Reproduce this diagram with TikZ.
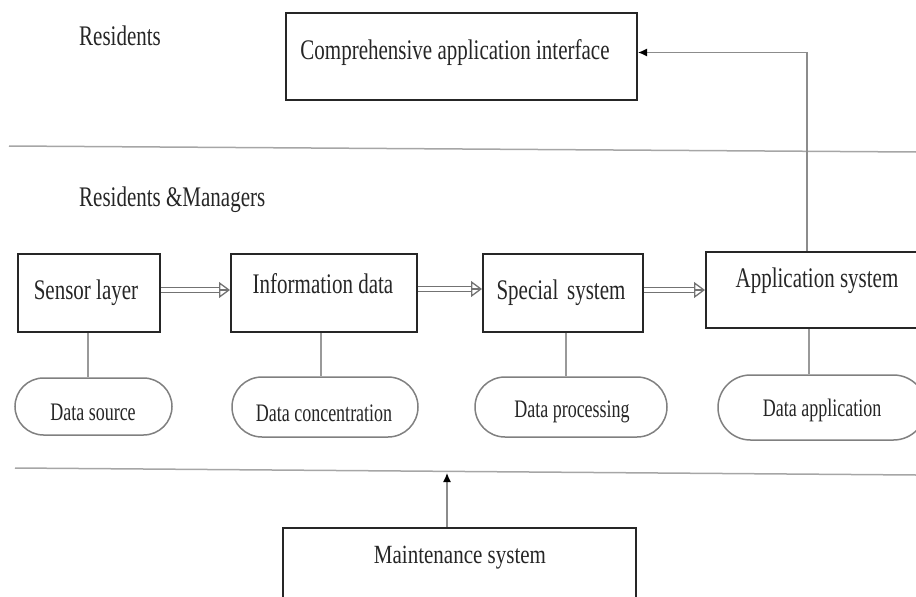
\documentclass[tikz,border=0pt]{standalone}
\usepackage{fontspec}
\setmainfont{Liberation Serif}
\usepackage{graphicx}
\usetikzlibrary{arrows.meta,shapes.misc,calc}
\newcommand\tallt[2][1.35]{\scalebox{1}[#1]{#2}}
\begin{document}
\begin{tikzpicture}[x=1pt,y=-1pt,
  box/.style={draw=black!85, line width=2pt, rectangle, inner sep=0pt},
  pill/.style={draw=black!50, line width=1.5pt, rounded rectangle, inner sep=0pt},
  lbl/.style={font=\fontsize{21}{24}\selectfont, text=black!85, inner sep=0pt},
  smalllbl/.style={font=\fontsize{18}{21}\selectfont, text=black!85, inner sep=0pt},
  conn/.style={draw=black!40, line width=1.5pt},
  sepline/.style={draw=black!35, line width=1.5pt},
  flowshaft/.style={draw=black!55, double=white, double distance=3.5pt, line width=1.3pt, shorten >=10pt},
  flowhead/.style={draw=black!55, line width=1.3pt, -{Triangle[open,length=11pt,width=16pt]}},
  uparrow/.style={draw=black!45, line width=1.3pt, -{Latex[length=9pt,width=8pt,black]}}
]
\clip (0,0) rectangle (916,597);
\useasboundingbox (0,0) rectangle (916,597);

% separators
\coordinate (s1a) at (9,146);
\coordinate (s1b) at (916,152);
\coordinate (s2a) at (15,468);
\coordinate (s2b) at (916,475);
\draw[sepline] (s1a) -- (s1b);
\draw[sepline] (s2a) -- (s2b);

% role labels
\node[lbl, anchor=west] (res) at (79,36) {\tallt{Residents}};
\node[lbl, anchor=west] (resm) at (79,200) {\tallt{Residents \&Managers}};

% top box
\node[box, minimum width=351pt, minimum height=87pt] (cai) at (461.5,56.5) {};
\node[lbl] (caiT) at (455,53) {\tallt{Comprehensive application interface}};

% main row
\node[box, minimum width=142pt, minimum height=78pt] (sensor) at (89,293) {};
\node[lbl] (sensorT) at (86,293) {\tallt{Sensor layer}};
\node[box, minimum width=186pt, minimum height=78pt] (info) at (324,293) {};
\node[lbl] (infoT) at (323,284) {\tallt{Information data}};
\node[box, minimum width=160pt, minimum height=78pt] (special) at (563,293) {};
\node[lbl] (specialT) at (561,293) {\tallt{Special\, system}};
\node[box, minimum width=222pt, minimum height=76pt] (app) at (817,290) {};
\node[lbl] (appT) at (817,281) {\tallt{Application system}};

% pills
\node[pill, minimum width=157pt, minimum height=57pt] (ds) at (93.5,406.5) {};
\node[smalllbl] (dsT) at (93,412) {\tallt[1.4]{Data source}};
\node[pill, minimum width=186pt, minimum height=60pt] (dc) at (325,407) {};
\node[smalllbl] (dcT) at (324,413) {\tallt[1.4]{Data concentration}};
\node[pill, minimum width=192pt, minimum height=60pt] (dp) at (571,407) {};
\node[smalllbl] (dpT) at (572,412) {\tallt[1.4]{Data processing}};
\node[pill, minimum width=208pt, minimum height=65pt] (da) at (822,407.5) {};
\node[smalllbl] (daT) at (822,410) {\tallt[1.4]{Data application}};

% connectors to pills
\draw[conn] ([xshift=-1pt]sensor.south) -- ([xshift=-1pt]sensor.south |- ds.north);
\draw[conn] ([xshift=-3pt]info.south) -- ([xshift=-3pt]info.south |- dc.north);
\draw[conn] ([xshift=3pt]special.south) -- ([xshift=3pt]special.south |- dp.north);
\draw[conn] ([xshift=-8pt]app.south) -- ([xshift=-8pt]app.south |- da.north);

% flow arrows (hollow double arrows)
\draw[flowshaft] ([yshift=3pt]sensor.east) -- ([yshift=3pt]info.west);
\draw[flowhead] ([yshift=3pt,xshift=-1pt]info.west) -- ([yshift=3pt]info.west);
\draw[flowshaft] ([yshift=4pt]info.east) -- ([yshift=4pt]special.west);
\draw[flowhead] ([yshift=4pt,xshift=-1pt]special.west) -- ([yshift=4pt]special.west);
\draw[flowshaft] (special.east |- app.west) -- (app.west);
\draw[flowhead] ([xshift=-1pt]app.west) -- (app.west);

% feedback to top
\draw[uparrow] ([xshift=-10pt]app.north) |- ([yshift=4pt]cai.east);

% maintenance
\node[box, minimum width=353pt, minimum height=120pt] (maint) at (459.5,588) {};
\node[lbl] (maintT) at (460,558) {\tallt[1.25]{Maintenance system}};
\coordinate (mt) at (447,473);
\draw[uparrow] (maint.north -| mt) -- (mt);
\end{tikzpicture}
\end{document}
